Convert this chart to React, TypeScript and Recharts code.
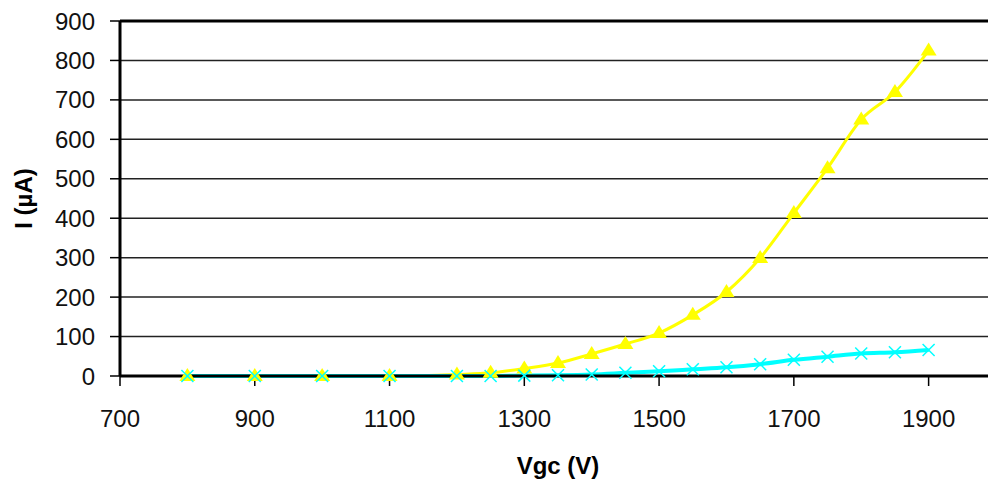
import { LineChart, Line, XAxis, YAxis, CartesianGrid, ReferenceLine } from 'recharts'

const volts = [800, 900, 1000, 1100, 1200, 1250, 1300, 1350, 1400, 1450, 1500, 1550, 1600, 1650, 1700, 1750, 1800, 1850, 1900]
const yellowI = [0, 0, 0, 0, 4, 8, 19, 33, 56, 81, 109, 155, 213, 299, 413, 527, 650, 720, 825]
const cyanI = [0, 0, 0, 0, 0, 0, 1, 2, 4, 8, 12, 17, 22, 30, 41, 49, 57, 60, 66]
const xTicks = [700, 900, 1100, 1300, 1500, 1700, 1900]
const yTicks = [0, 100, 200, 300, 400, 500, 600, 700, 800, 900]

const data = volts.map((v, i) => ({ v, a: yellowI[i], b: cyanI[i] }))

const FONT = '"Liberation Sans", Arial, sans-serif'

function Triangle(props: any) {
  const { cx, cy } = props
  if (cx == null || cy == null) return null
  return <polygon points={`${cx},${cy - 8} ${cx - 8},${cy + 5} ${cx + 8},${cy + 5}`} fill="#ffff00" />
}

function Cross(props: any) {
  const { cx, cy } = props
  if (cx == null || cy == null) return null
  return (
    <g>
      <line x1={cx - 6} y1={cy - 6} x2={cx + 6} y2={cy + 6} stroke="#00ffff" strokeWidth={1.5} />
      <line x1={cx - 6} y1={cy + 6} x2={cx + 6} y2={cy - 6} stroke="#00ffff" strokeWidth={1.5} />
    </g>
  )
}

function YLabel(props: any) {
  const { viewBox } = props
  const y = viewBox.y + viewBox.height / 2
  return (
    <text x={32} y={y} transform={`rotate(-90, 32, ${y})`} textAnchor="middle"
      fontFamily={FONT} fontSize={24} fontWeight="bold" fill="#000">
      I (µA)
    </text>
  )
}

function XLabel(props: any) {
  const { viewBox } = props
  const x = viewBox.x + viewBox.width / 2
  return (
    <text x={x} y={474} textAnchor="middle" fontFamily={FONT} fontSize={24} fontWeight="bold" fill="#000">
      Vgc (V)
    </text>
  )
}

export default function App() {
  const tick = { fontFamily: FONT, fontSize: 24, fill: '#111' }
  return (
    <div style={{ position: 'absolute', left: 0, top: 0, width: 988, height: 482, overflow: 'hidden', background: '#fff' }}>
      <LineChart width={996} height={482} data={data} margin={{ top: 21, right: 0, bottom: 0, left: 0 }}>
        <CartesianGrid vertical={false} stroke="#222" strokeWidth={1.5} />
        <XAxis dataKey="v" type="number" domain={[700, 2000]} ticks={xTicks} allowDataOverflow
          height={106} tick={tick} tickSize={10} tickMargin={24}
          axisLine={{ stroke: '#000', strokeWidth: 3 }} tickLine={{ stroke: '#000', strokeWidth: 1.5 }}
          label={<XLabel />} />
        <YAxis type="number" domain={[0, 900]} ticks={yTicks} width={120}
          tick={tick} tickSize={10} tickMargin={15}
          axisLine={{ stroke: '#000', strokeWidth: 3 }} tickLine={{ stroke: '#000', strokeWidth: 1.5 }}
          label={<YLabel />} />
        <ReferenceLine y={900} stroke="#000" strokeWidth={3} />
        <Line type="monotone" dataKey="a" stroke="#ffff00" strokeWidth={3} dot={<Triangle />} isAnimationActive={false} />
        <Line type="monotone" dataKey="b" stroke="#00ffff" strokeWidth={4} dot={<Cross />} isAnimationActive={false} />
      </LineChart>
    </div>
  )
}
